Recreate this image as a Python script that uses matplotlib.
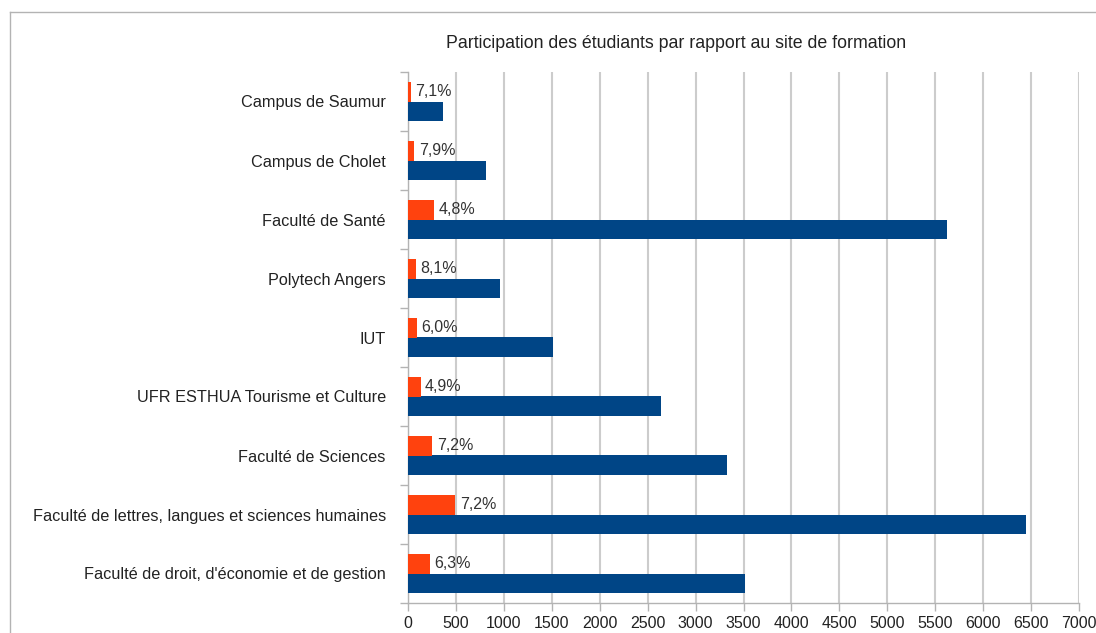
import numpy as np
import matplotlib
matplotlib.use('Agg')
import matplotlib.pyplot as plt
from matplotlib.lines import Line2D

plt.rcParams['font.family'] = ['Liberation Sans', 'DejaVu Sans']

# bottom to top
sites = ["Faculté de droit, d'économie et de gestion",
         'Faculté de lettres, langues et sciences humaines',
         'Faculté de Sciences',
         'UFR ESTHUA Tourisme et Culture',
         'IUT',
         'Polytech Angers',
         'Faculté de Santé',
         'Campus de Cholet',
         'Campus de Saumur']
inscrits = [3520, 6446, 3332, 2643, 1512, 955, 5618, 816, 363]
repondants = [232, 495, 255, 132, 94, 80, 275, 66, 28]
taux = ['6,3%', '7,2%', '7,2%', '4,9%', '6,0%', '8,1%', '4,8%', '7,9%', '7,1%']

blue = '#004586'
orange = '#ff420e'
grey = '#b3b3b3'

fig = plt.figure(figsize=(10.96, 6.33), dpi=100)
ax = fig.add_axes([408/1096, 1-603/633, (1079-408)/1096, (603-72)/633])

y = np.arange(len(sites))
h = 0.33
ax.barh(y - h/2, inscrits, height=h, color=blue, zorder=3)
ax.barh(y + h/2, repondants, height=h, color=orange, zorder=3)

for yi, v, t in zip(y, repondants, taux):
    ax.text(v + 45, yi + h/2, t, va='center', ha='left', fontsize=11.5,
            color='#333333', zorder=4)

ax.set_xlim(0, 7000)
ax.set_ylim(-0.5, len(sites) - 0.5)
ax.set_xticks(np.arange(0, 7001, 500))
ax.set_yticks(np.arange(-0.5, len(sites), 1.0))
ax.set_yticklabels([])
ax.set_yticks(y, minor=True)
ax.set_yticklabels(sites, minor=True)
ax.tick_params(axis='y', which='minor', length=0, pad=16, labelsize=11.7,
               labelcolor='#222222')
ax.tick_params(axis='y', which='major', length=6, color=grey, width=1)
ax.tick_params(axis='x', length=6, color=grey, width=1, labelsize=11.5,
               labelcolor='#222222', pad=3)
ax.grid(axis='x', color='#cccccc', linewidth=1.5, zorder=0)
for s in ['top', 'right']:
    ax.spines[s].set_visible(False)
for s in ['left', 'bottom']:
    ax.spines[s].set_color(grey)
    ax.spines[s].set_linewidth(1)

fig.text(676/1096, 1-44/633, 'Participation des étudiants par rapport au site de formation',
         ha='center', va='center', fontsize=12.8, color='#222222')

# outer frame
fig.add_artist(Line2D([10/1096, 10/1096], [0, 1-12/633], color=grey, linewidth=1))
fig.add_artist(Line2D([10/1096, 1], [1-12/633, 1-12/633], color=grey, linewidth=1))

fig.savefig('out.png', dpi=100)
